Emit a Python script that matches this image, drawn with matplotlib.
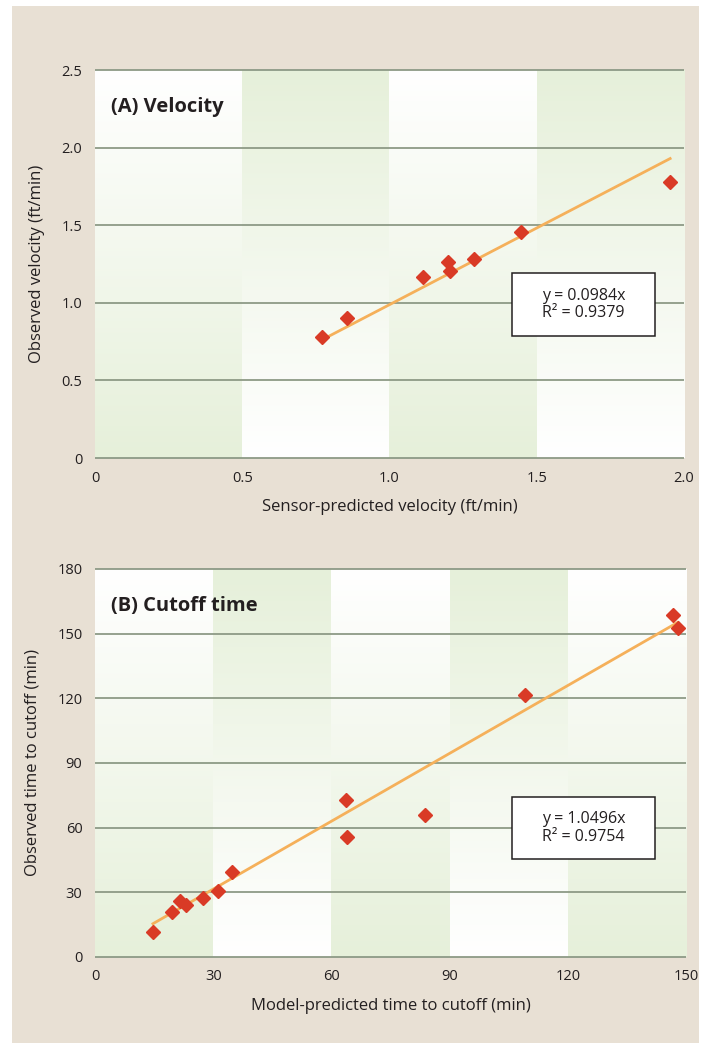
import matplotlib.pyplot as plt
import numpy as np
from matplotlib.colors import LinearSegmentedColormap
from matplotlib.patches import Rectangle

plt.rcParams['font.family'] = ['Open Sans', 'DejaVu Sans']

# panel A data
vel_pred = [0.771, 0.856, 1.114, 1.199, 1.205, 1.287, 1.447, 1.953]
vel_obs = [0.780, 0.902, 1.166, 1.263, 1.205, 1.282, 1.456, 1.778]
vel_slope = 0.988
vel_eq = 'y = 0.0984x\nR² = 0.9379'
vel_xticks = [0, 0.5, 1.0, 1.5, 2.0]
vel_xlabels = ['0', '0.5', '1.0', '1.5', '2.0']
vel_yticks = [0, 0.5, 1.0, 1.5, 2.0, 2.5]
vel_ylabels = ['0', '0.5', '1.0', '1.5', '2.0', '2.5']

# panel B data
cut_pred = [14.7, 19.6, 21.6, 23.1, 27.4, 31.3, 34.7, 63.6, 63.9, 83.8, 109.1, 146.8, 147.9]
cut_obs = [11.6, 21.0, 26.1, 24.3, 27.2, 30.8, 39.4, 73.0, 55.8, 65.7, 121.5, 158.5, 152.8]
cut_slope = 1.0496
cut_eq = 'y = 1.0496x\nR² = 0.9754'
cut_xticks = [0, 30, 60, 90, 120, 150]
cut_yticks = [0, 30, 60, 90, 120, 150, 180]

W, H = 711, 1049
fig = plt.figure(figsize=(W / 100, H / 100), dpi=100)
fig.patch.set_facecolor('white')
fig.patches.append(Rectangle((12 / W, 1 - 1043 / H), 687 / W, 1037 / H,
                             transform=fig.transFigure, facecolor='#e8e0d4',
                             edgecolor='none', zorder=-10))

cmap = LinearSegmentedColormap.from_list('band', ['#ffffff', '#e6f0da'])
grid_c = '#8d9a86'
txt_c = '#231f20'


def panel(ax, xs, ys, slope, eq, xticks, xlabels, yticks, ylabels,
          title, xlabel, ylabel, box_xy):
    x0, x1 = xticks[0], xticks[-1]
    y0, y1 = yticks[0], yticks[-1]
    grad = np.linspace(0, 1, 256).reshape(-1, 1)
    for i in range(len(xticks) - 1):
        # even bands: white at top, green at bottom; odd bands the reverse
        g = grad if i % 2 == 0 else grad[::-1]
        ax.imshow(g, extent=[xticks[i], xticks[i + 1], y0, y1], origin='upper',
                  cmap=cmap, aspect='auto', zorder=0, vmin=0, vmax=1)
    ax.set_xlim(x0, x1)
    ax.set_ylim(y0, y1)
    ax.hlines(yticks, x0, x1, colors=grid_c, lw=1.3, zorder=1, clip_on=False)
    for s in ax.spines.values():
        s.set_visible(False)
    ax.set_xticks(xticks)
    ax.set_xticklabels(xlabels)
    ax.set_yticks(yticks)
    ax.set_yticklabels(ylabels)
    ax.tick_params(length=0, labelsize=10.5, colors=txt_c)
    ax.tick_params(axis='x', pad=9)
    ax.tick_params(axis='y', pad=9)
    lx = np.array([min(xs), max(xs)])
    ax.plot(lx, slope * lx, color='#f5b05a', lw=2, zorder=3)
    ax.plot(xs, ys, 'D', color='#d93a26', ms=7, mec='#d93a26', zorder=4,
            clip_on=False)
    ax.text(0.027, 0.905, title, transform=ax.transAxes, fontsize=14.5,
            fontweight='bold', color=txt_c, va='center', ha='left')
    ax.set_xlabel(xlabel, fontsize=12, color=txt_c, labelpad=10)
    ax.set_ylabel(ylabel, fontsize=12, color=txt_c, labelpad=12)
    bx, by, bw, bh = box_xy
    ax.add_patch(Rectangle((bx, by), bw, bh, transform=ax.transAxes,
                           facecolor='white', edgecolor='#231f20', lw=1.1,
                           zorder=5))
    ax.text(bx + bw / 2, by + bh / 2, eq, transform=ax.transAxes,
            ha='center', va='center', fontsize=11.5, color=txt_c, zorder=6,
            linespacing=1.1)


axA = fig.add_axes([95 / W, 1 - 458 / H, 589 / W, 388 / H])
panel(axA, vel_pred, vel_obs, vel_slope, vel_eq, vel_xticks, vel_xlabels,
      vel_yticks, vel_ylabels, '(A) Velocity',
      'Sensor-predicted velocity (ft/min)', 'Observed velocity (ft/min)',
      ((512 - 95) / 589, (458 - 336) / 388, 143 / 589, 63 / 388))

axB = fig.add_axes([95 / W, 1 - 957 / H, 591 / W, 388 / H])
panel(axB, cut_pred, cut_obs, cut_slope, cut_eq, cut_xticks,
      [str(t) for t in cut_xticks], cut_yticks, [str(t) for t in cut_yticks],
      '(B) Cutoff time', 'Model-predicted time to cutoff (min)',
      'Observed time to cutoff (min)',
      ((512 - 95) / 591, (957 - 859) / 388, 143 / 591, 62 / 388))

fig.savefig('out.png', dpi=100)
